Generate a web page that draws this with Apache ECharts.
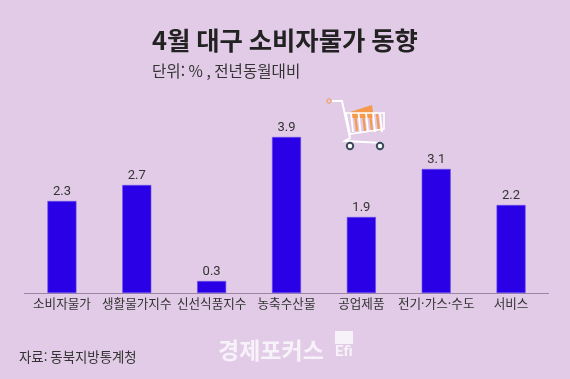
<!DOCTYPE html>
<html lang="ko">
<head>
<meta charset="utf-8">
<style>
  html, body { margin: 0; padding: 0; background: #e1cbe6; }
  #chart { width: 570px; height: 379px; }
</style>
<script src="https://cdn.jsdelivr.net/npm/echarts@6/dist/echarts.min.js"></script>
</head>
<body>
<div id="chart"></div>
<script>
const categories = ['소비자물가', '생활물가지수', '신선식품지수', '농축수산물', '공업제품', '전기·가스·수도', '서비스']
const values = [2.3, 2.7, 0.3, 3.9, 1.9, 3.1, 2.2]

const font = '"Noto Sans CJK KR", sans-serif'
const white = '#fff'
const orange = '#f59a4c'

// cart picture, decoration only
const cart = {
  type: 'group',
  x: 300,
  y: 80,
  silent: true,
  children: [
    { type: 'polygon', shape: { points: [[50, 32], [72, 25], [74, 38], [52, 38]] }, style: { fill: orange } },
    ...[52, 60, 67, 74].map((x) => ({
      type: 'line',
      shape: { x1: x + 3, y1: 34, x2: x + 5, y2: 51 },
      style: { stroke: orange, lineWidth: 2.2 },
    })),
    ...[48, 55.5, 63, 70, 77].map((x) => ({
      type: 'line',
      shape: { x1: x + 3, y1: 33, x2: x + 5, y2: 52 },
      style: { stroke: white, lineWidth: 1.8 },
    })),
    {
      type: 'polygon',
      shape: { points: [[46, 33], [84, 33], [84, 49], [50, 54]] },
      style: { fill: 'none', stroke: white, lineWidth: 1.6 },
    },
    {
      type: 'polyline',
      shape: { points: [[32, 21], [42, 21], [50, 58], [45, 61], [83, 63]] },
      style: { stroke: white, lineWidth: 2, fill: 'none' },
    },
    { type: 'circle', shape: { cx: 29, cy: 21, r: 2.2 }, style: { fill: 'none', stroke: orange, lineWidth: 1 } },
    { type: 'circle', shape: { cx: 50, cy: 66, r: 3.2 }, style: { fill: white, stroke: '#3c4a5e', lineWidth: 2 } },
    { type: 'circle', shape: { cx: 80, cy: 66, r: 3.2 }, style: { fill: white, stroke: '#3c4a5e', lineWidth: 2 } },
  ],
}

const chart = echarts.init(document.getElementById('chart'), undefined, { renderer: 'canvas' })
chart.setOption({
  animation: false,
  backgroundColor: '#e1cbe6',
  textStyle: { fontFamily: font },
  grid: { left: 24.5, right: 21.5, top: 137, bottom: 86 },
  xAxis: {
    type: 'category',
    data: categories,
    axisTick: { show: false },
    axisLine: { lineStyle: { color: '#9a86a4', width: 1 } },
    axisLabel: { color: '#333', fontSize: 12.6, fontFamily: font, margin: 4, interval: 0 },
  },
  yAxis: { type: 'value', min: 0, max: 3.9, show: false, splitLine: { show: false } },
  series: [
    {
      type: 'bar',
      data: values,
      barWidth: 29,
      itemStyle: { color: '#2a00e6', borderColor: '#6a4bee', borderWidth: 0.6 },
      label: {
        show: true,
        position: 'top',
        distance: 3,
        color: '#333',
        fontSize: 13,
        fontFamily: 'Roboto, sans-serif',
        formatter: (p) => p.value.toFixed(1),
      },
    },
  ],
  graphic: [
    {
      type: 'text', left: 'center', top: 28, silent: true,
      style: { text: '4월 대구 소비자물가 동향', fill: '#222', fontSize: 25.4, fontWeight: 'bold', fontFamily: font },
    },
    {
      type: 'text', x: 152, y: 63, silent: true,
      style: { text: '단위: % , 전년동월대비', fill: '#333', fontSize: 15.6, fontFamily: font },
    },
    {
      type: 'text', x: 19, y: 350, silent: true,
      style: { text: '자료: 동북지방통계청', fill: '#333', fontSize: 13.4, fontFamily: font },
    },
    {
      type: 'text', x: 218, y: 339, silent: true,
      style: { text: '경제포커스', fill: '#f7f2f9', fontSize: 23, fontWeight: 'bold', fontFamily: font },
    },
    { type: 'rect', shape: { x: 335, y: 331, width: 18, height: 13 }, style: { fill: '#f7f2f9' }, silent: true },
    {
      type: 'text', x: 335, y: 345, silent: true,
      style: { text: 'Efi', fill: '#f7f2f9', fontSize: 15, fontWeight: 'bold', fontFamily: 'Roboto' },
    },
    cart,
  ],
})
</script>
</body>
</html>
